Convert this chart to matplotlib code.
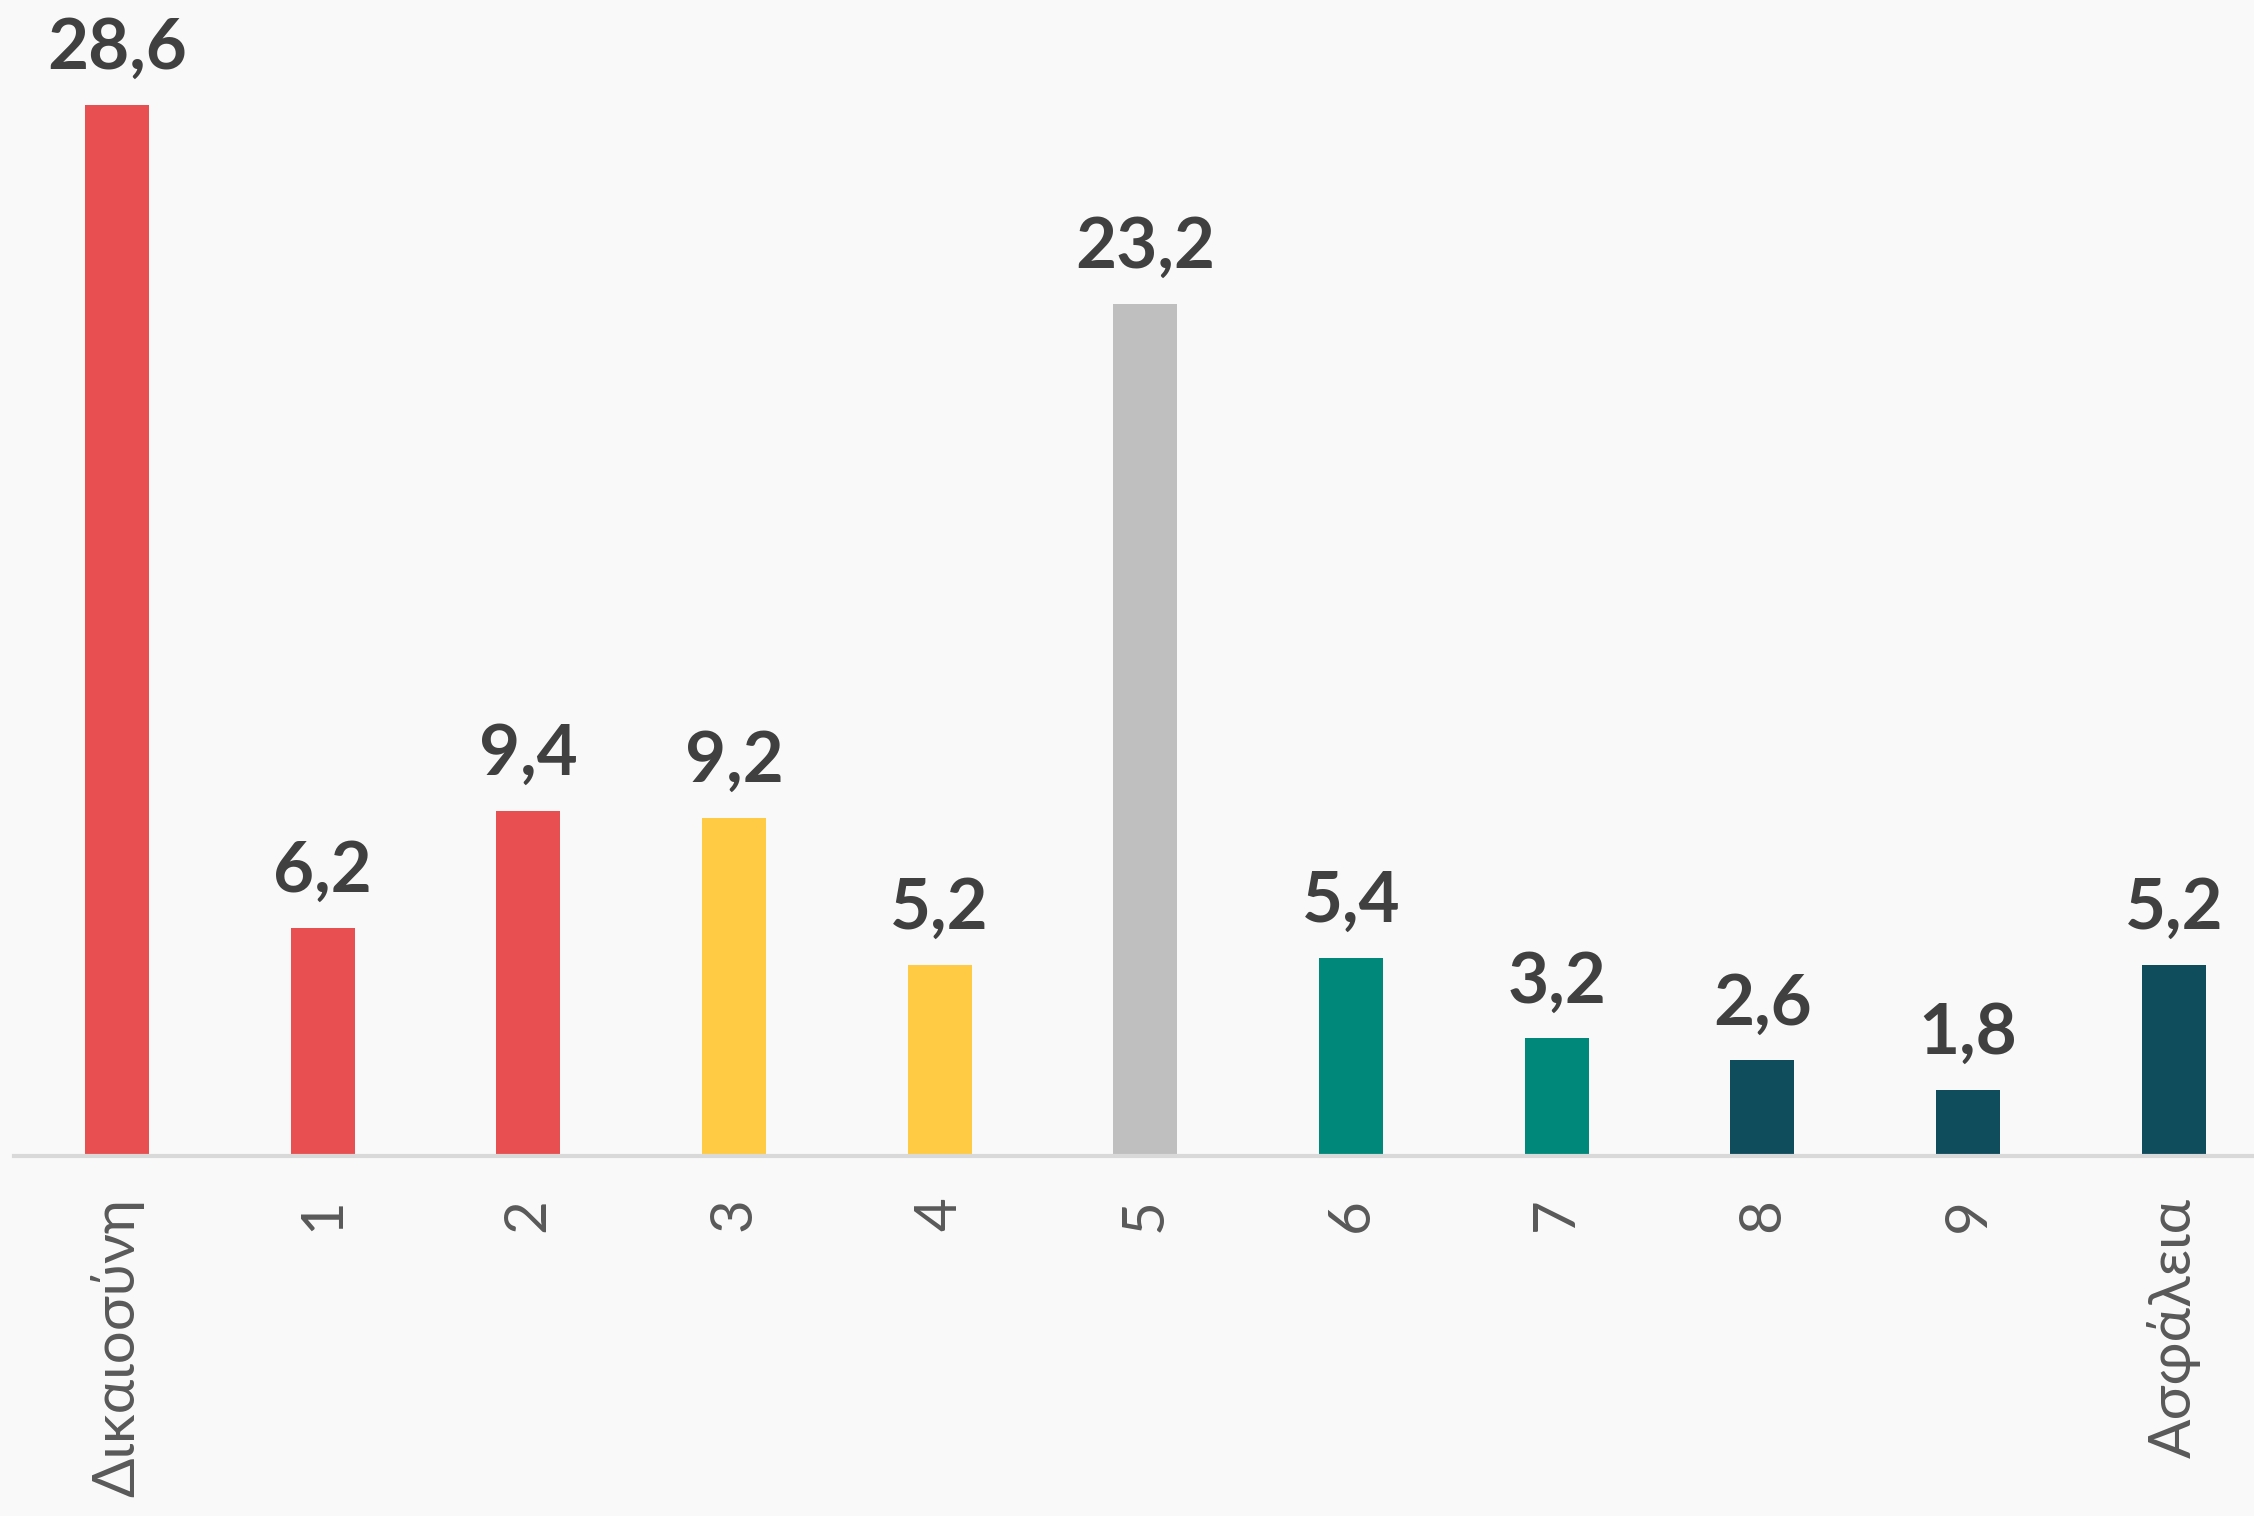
import matplotlib
matplotlib.use("Agg")
import matplotlib.pyplot as plt

categories = ["Δικαιοσύνη", "1", "2", "3", "4", "5", "6", "7", "8", "9", "Ασφάλεια"]
values = [28.6, 6.2, 9.4, 9.2, 5.2, 23.2, 5.4, 3.2, 2.6, 1.8, 5.2]
colors = ["#E84F51", "#E84F51", "#E84F51", "#FFCB45", "#FFCB45", "#BFBFBF",
          "#00897B", "#00897B", "#0F4C5C", "#0F4C5C", "#0F4C5C"]
value_labels = ["28,6", "6,2", "9,4", "9,2", "5,2", "23,2", "5,4", "3,2", "2,6", "1,8", "5,2"]

bg = "#F9F9F9"
fig = plt.figure(figsize=(22.54, 15.16), dpi=100, facecolor=bg)
ax = fig.add_axes([14/2254, (1516-1156)/1516, (2254-14)/2254, 1156/1516])
ax.set_facecolor(bg)

x = list(range(len(categories)))
ax.bar(x, values, width=0.311, color=colors, zorder=2)
ax.set_xlim(-0.5, 10.39)
ax.set_ylim(0, 31.46)

for xi, v, lab in zip(x, values, value_labels):
    ax.annotate(lab, (xi, v), xytext=(0, 24), textcoords="offset pixels",
                ha="center", va="bottom", fontsize=51, fontweight="bold",
                family="Lato", color="#404040")

for s in ["top", "right", "left"]:
    ax.spines[s].set_visible(False)
ax.spines["bottom"].set_color("#D9D9D9")
ax.spines["bottom"].set_linewidth(3)
ax.set_yticks([])
ax.set_xticks(x)
ax.set_xticklabels(categories, rotation=90, fontsize=42, family="Lato",
                   fontweight="normal", color="#595959")
ax.tick_params(axis="x", length=0, pad=30)

fig.savefig("out.png", dpi=100, facecolor=bg)
